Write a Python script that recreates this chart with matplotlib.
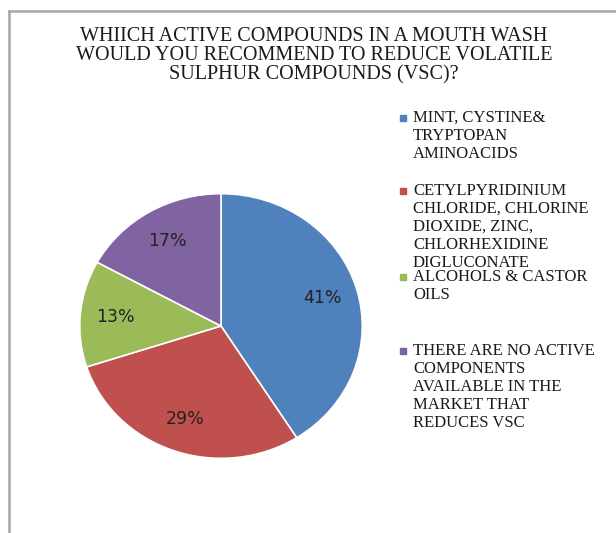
import matplotlib.pyplot as plt
from matplotlib.lines import Line2D

title = ('WHIICH ACTIVE COMPOUNDS IN A MOUTH WASH\n'
         'WOULD YOU RECOMMEND TO REDUCE VOLATILE\n'
         'SULPHUR COMPOUNDS (VSC)?')
labels = ['MINT, CYSTINE&\nTRYPTOPAN\nAMINOACIDS',
          'CETYLPYRIDINIUM\nCHLORIDE, CHLORINE\nDIOXIDE, ZINC,\nCHLORHEXIDINE\nDIGLUCONATE',
          'ALCOHOLS & CASTOR\nOILS',
          'THERE ARE NO ACTIVE\nCOMPONENTS\nAVAILABLE IN THE\nMARKET THAT\nREDUCES VSC']
shares = [41, 29, 13, 17]
colors = ['#4f81bd', '#c0504d', '#9bbb59', '#8064a2']

W, H = 616, 533
fig = plt.figure(figsize=(W / 100, H / 100), dpi=100)

# pie axes, slightly wider than tall like the original export
cx, cy, rx, ry = 221, 326, 142, 133
ax = fig.add_axes([(cx - rx) / W, (H - cy - ry) / H, 2 * rx / W, 2 * ry / H])
wedges, texts, autotexts = ax.pie(shares, colors=colors, startangle=90, counterclock=False,
                                  autopct='%d%%', pctdistance=0.75,
                                  wedgeprops=dict(edgecolor='white', linewidth=1.2),
                                  textprops=dict(fontsize=12.5, color='#222222', family='DejaVu Sans'))
ax.set_aspect('auto')
ax.set_xlim(-1.005, 1.005)
ax.set_ylim(-1.005, 1.005)

fig.text(314 / W, 1 - 27 / H, title, ha='center', va='top', fontsize=14.5,
         family='Liberation Serif', color='#1a1a1a', linespacing=1.02)

# legend drawn by hand, entries at fixed heights
entry_y = [110, 183, 269, 343]
for lab, col, y in zip(labels, colors, entry_y):
    fig.patches.append(plt.Rectangle((400 / W, 1 - (y + 11) / H), 6 / W, 6 / H,
                                     transform=fig.transFigure, color=col))
    fig.text(413 / W, 1 - y / H, lab, ha='left', va='top', fontsize=12,
             family='Liberation Serif', color='#1a1a1a', linespacing=1.16)

# chart frame (left and top edges only)
fig.add_artist(Line2D([9 / W, 9 / W], [0, 1 - 11 / H], color='#a6a6a6', lw=1.8))
fig.add_artist(Line2D([9 / W, 1], [1 - 11 / H, 1 - 11 / H], color='#a6a6a6', lw=1.8))

fig.savefig('out.png', dpi=100)
